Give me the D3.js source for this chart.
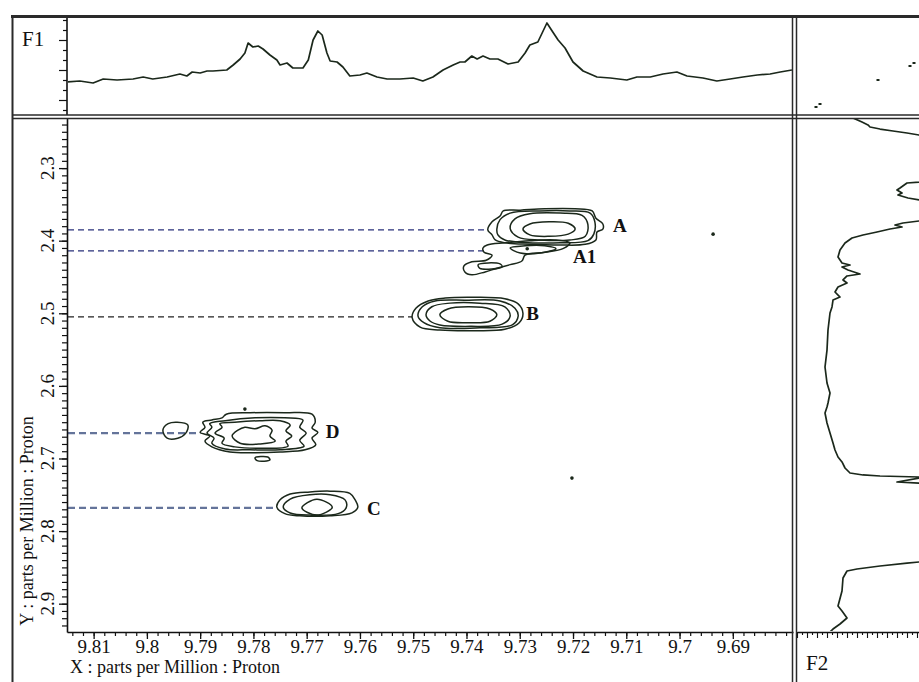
<!DOCTYPE html>
<html><head><meta charset="utf-8">
<script src="https://cdn.jsdelivr.net/npm/d3@7"></script>
<style>
body{margin:0;background:#fff}
svg{display:block}
text{font-family:"Liberation Serif","DejaVu Serif",serif;fill:#111}
</style>
</head><body>
<svg id="c" width="919" height="682"></svg>
<script>
// ---------------- DATA ----------------
const xTickValues = [9.81,9.80,9.79,9.78,9.77,9.76,9.75,9.74,9.73,9.72,9.71,9.70,9.69];
const yTickValues = [2.3,2.4,2.5,2.6,2.7,2.8,2.9];

// F1 projection (top): chemical shift (ppm) and intensity (a.u.)
const f1Shift = [9.8150,9.8126,9.8101,9.8082,9.8056,9.8026,9.8007,9.7989,9.7962,9.7938,9.7925,9.7915,9.7900,9.7887,9.7876,9.7850,9.7838,9.7825,9.7816,9.7810,9.7801,9.7791,9.7782,9.7769,9.7756,9.7750,9.7737,9.7726,9.7707,9.7697,9.7688,9.7679,9.7671,9.7662,9.7656,9.7643,9.7632,9.7619,9.7600,9.7587,9.7568,9.7549,9.7525,9.7500,9.7482,9.7463,9.7444,9.7425,9.7412,9.7403,9.7390,9.7380,9.7369,9.7356,9.7341,9.7322,9.7303,9.7290,9.7281,9.7266,9.7249,9.7238,9.7228,9.7215,9.7200,9.7181,9.7155,9.7130,9.7099,9.7080,9.7055,9.7031,9.7005,9.6986,9.6956,9.6930,9.6905,9.6881,9.6854,9.6830,9.6811,9.6789];
const f1Intensity = [33,34,32,36,35,36,38,36,38,41,39,43,42,44,44,45,50,56,62,72,68,69,66,60,55,50,52,47,47,55,75,84,80,62,54,53,48,39,40,42,38,36,36,37,34,38,45,50,53,53,59,56,59,56,56,51,53,62,70,73,92,83,75,67,53,44,38,37,35,38,38,41,43,39,37,34,36,38,40,41,43,45];

// F2 projection (right): chemical shift (ppm) and intensity (a.u.)
const f2Shift = [2.2310,2.2365,2.2406,2.2434,2.2462,2.2489,2.2517,2.2544,2.2751,2.3150,2.3192,2.3205,2.3274,2.3302,2.3343,2.3371,2.3412,2.3439,2.3577,2.3700,2.3729,2.3756,2.3784,2.3811,2.3839,2.3880,2.3922,2.3963,2.4032,2.4128,2.4225,2.4307,2.4335,2.4362,2.4404,2.4459,2.4486,2.4541,2.4583,2.4638,2.4707,2.4776,2.4817,2.4913,2.4996,2.5230,2.5506,2.5740,2.5960,2.6098,2.6236,2.6291,2.6373,2.6511,2.6649,2.6787,2.6883,2.6979,2.7048,2.7131,2.7200,2.7227,2.7241,2.7255,2.7262,2.7269,2.7324,2.7338,2.7400,2.8400,2.8426,2.8440,2.8481,2.8522,2.8550,2.8646,2.8825,2.9032,2.9101,2.9197,2.9280,2.9349,2.9390];
const f2Intensity = [56,65,71,73,83,96,110,122,150,150,122,110,103,100,105,101,111,122,150,150,122,106,98,105,93,80,66,55,48,43,41,45,53,45,51,63,50,46,50,41,38,43,36,35,33,31,30,28,30,33,31,30,28,30,33,36,38,41,45,48,53,66,83,122,150,122,100,122,150,150,122,110,83,60,50,46,45,41,45,50,43,36,33];

// Corner panel stray points (F2 intensity, F1 intensity)
const cornerX = [19,23,81,113,117];
const cornerY = [8,11,35,49,52];

// Contour rings [x ppm, y ppm]
const contourA = [
 [[9.7360,2.385],[9.7352,2.374],[9.7337,2.366],[9.7331,2.359],[9.7299,2.358],[9.7253,2.356],[9.7196,2.356],[9.7164,2.359],[9.7157,2.369],[9.7144,2.377],[9.7144,2.384],[9.7155,2.388],[9.7157,2.399],[9.7177,2.405],[9.7224,2.406],[9.7281,2.405],[9.7328,2.403],[9.7346,2.399],[9.7352,2.392]],
 [[9.7343,2.384],[9.7337,2.371],[9.7318,2.362],[9.7262,2.359],[9.7206,2.359],[9.7168,2.362],[9.7159,2.374],[9.7161,2.391],[9.7172,2.400],[9.7224,2.403],[9.7299,2.402],[9.7328,2.399],[9.7341,2.392]],
 [[9.7318,2.383],[9.7309,2.370],[9.7281,2.363],[9.7224,2.362],[9.7183,2.365],[9.7172,2.378],[9.7177,2.394],[9.7206,2.399],[9.7262,2.399],[9.7303,2.395]],
 [[9.7294,2.384],[9.7281,2.377],[9.7245,2.374],[9.7209,2.376],[9.7196,2.384],[9.7209,2.391],[9.7245,2.394],[9.7281,2.392]]
];
const contourA1 = [
 [[9.7369,2.410],[9.7361,2.406],[9.7328,2.403],[9.7281,2.400],[9.7234,2.399],[9.7206,2.403],[9.7219,2.411],[9.7253,2.416],[9.7290,2.420],[9.7296,2.428],[9.7318,2.433],[9.7343,2.438],[9.7365,2.443],[9.7390,2.447],[9.7403,2.443],[9.7405,2.435],[9.7390,2.429],[9.7363,2.427],[9.7352,2.420],[9.7367,2.416]],
 [[9.7318,2.410],[9.7290,2.407],[9.7253,2.407],[9.7232,2.411],[9.7262,2.417],[9.7299,2.417]],
 [[9.7378,2.433],[9.7337,2.432],[9.7333,2.436],[9.7375,2.438]]
];
const contourB = [
 [[9.7502,2.506],[9.7495,2.493],[9.7472,2.483],[9.7440,2.479],[9.7384,2.478],[9.7328,2.480],[9.7303,2.487],[9.7294,2.500],[9.7301,2.513],[9.7328,2.522],[9.7384,2.524],[9.7450,2.523],[9.7487,2.519]],
 [[9.7491,2.504],[9.7483,2.491],[9.7459,2.483],[9.7403,2.482],[9.7337,2.483],[9.7309,2.493],[9.7303,2.504],[9.7314,2.516],[9.7375,2.520],[9.7450,2.520],[9.7480,2.513]],
 [[9.7476,2.502],[9.7465,2.491],[9.7431,2.486],[9.7375,2.486],[9.7328,2.491],[9.7318,2.504],[9.7333,2.515],[9.7393,2.518],[9.7450,2.516],[9.7468,2.511]],
 [[9.7450,2.502],[9.7435,2.494],[9.7397,2.491],[9.7356,2.494],[9.7343,2.502],[9.7356,2.511],[9.7397,2.513],[9.7435,2.511]]
];
const contourD = [
 [[9.7900,2.664],[9.7891,2.657],[9.7895,2.650],[9.7878,2.647],[9.7859,2.644],[9.7851,2.639],[9.7806,2.637],[9.7741,2.637],[9.7690,2.639],[9.7684,2.650],[9.7690,2.658],[9.7679,2.664],[9.7690,2.672],[9.7683,2.681],[9.7703,2.688],[9.7750,2.691],[9.7797,2.692],[9.7844,2.691],[9.7878,2.684],[9.7891,2.676],[9.7882,2.669]],
 [[9.7887,2.665],[9.7878,2.657],[9.7882,2.652],[9.7853,2.648],[9.7797,2.644],[9.7741,2.644],[9.7707,2.647],[9.7713,2.657],[9.7701,2.665],[9.7713,2.675],[9.7705,2.683],[9.7750,2.688],[9.7806,2.688],[9.7853,2.687],[9.7878,2.679],[9.7874,2.672]],
 [[9.7872,2.665],[9.7859,2.657],[9.7863,2.652],[9.7835,2.650],[9.7788,2.648],[9.7750,2.648],[9.7731,2.654],[9.7739,2.662],[9.7728,2.669],[9.7739,2.676],[9.7735,2.683],[9.7788,2.686],[9.7835,2.684],[9.7859,2.679],[9.7855,2.672]],
 [[9.7840,2.669],[9.7829,2.661],[9.7816,2.657],[9.7797,2.659],[9.7778,2.655],[9.7765,2.661],[9.7769,2.669],[9.7759,2.676],[9.7788,2.680],[9.7825,2.679]],
 [[9.7970,2.661],[9.7960,2.652],[9.7943,2.650],[9.7923,2.654],[9.7927,2.665],[9.7942,2.672],[9.7962,2.672]],
 [[9.7797,2.699],[9.7773,2.698],[9.7769,2.702],[9.7793,2.703]]
];
const contourC = [
 [[9.7756,2.767],[9.7750,2.757],[9.7731,2.749],[9.7694,2.746],[9.7656,2.745],[9.7619,2.748],[9.7609,2.757],[9.7604,2.767],[9.7615,2.775],[9.7656,2.779],[9.7713,2.779],[9.7741,2.776]],
 [[9.7744,2.767],[9.7731,2.756],[9.7694,2.750],[9.7656,2.750],[9.7628,2.757],[9.7626,2.768],[9.7641,2.776],[9.7694,2.778],[9.7731,2.775]],
 [[9.7709,2.768],[9.7681,2.756],[9.7652,2.767],[9.7681,2.778]]
];
// isolated noise points
const dotShiftX = [9.7286,9.6937,9.7202,9.7816];
const dotShiftY = [2.411,2.391,2.727,2.632];

// peak annotations
const peakNames  = ["A","A1","B","D","C"];
const guideY     = [2.385,2.414,2.505,2.665,2.768];
const guideEndX  = [9.7360,9.7367,9.7502,9.7900,9.7756];
const labelX     = [9.7125,9.7200,9.7288,9.7664,9.7587];
const labelY     = [2.388,2.431,2.509,2.672,2.778];
const guideStyle = ["navy","navy","black","slate","slate"];

// ---------------- CHART ----------------
const svg = d3.select("#c");
const x = d3.scaleLinear().domain([9.815, 9.6787]).range([67, 793]);
const y = d3.scaleLinear().domain([2.231, 2.939]).range([118, 632]);
const f1y = d3.scaleLinear().domain([0, 100]).range([115, 15]);
const f2x = d3.scaleLinear().domain([0, 122]).range([797, 919]);

const defs = svg.append("defs");
function clip(id, x0, y0, w, h){
  defs.append("clipPath").attr("id", id).append("rect").attr("x", x0).attr("y", y0).attr("width", w).attr("height", h);
}
clip("cMain", 68, 119, 724, 512);
clip("cF1", 68, 18, 724, 96);
clip("cF2", 797, 119, 122, 512);
clip("cCorner", 797, 18, 122, 96);

const ink = "#1b281b";

// F1 trace
svg.append("g").attr("clip-path", "url(#cF1)")
  .append("path")
  .datum(d3.zip(f1Shift, f1Intensity))
  .attr("fill", "none").attr("stroke", ink).attr("stroke-width", 1.7).attr("stroke-linejoin", "round")
  .attr("d", d3.line().x(d => x(d[0])).y(d => f1y(d[1])));

// F2 trace
svg.append("g").attr("clip-path", "url(#cF2)")
  .append("path")
  .datum(d3.zip(f2Shift, f2Intensity))
  .attr("fill", "none").attr("stroke", ink).attr("stroke-width", 1.7).attr("stroke-linejoin", "round")
  .attr("d", d3.line().x(d => f2x(d[1])).y(d => y(d[0])));

// corner points
svg.append("g").attr("clip-path", "url(#cCorner)")
  .selectAll("rect").data(d3.zip(cornerX, cornerY)).join("rect")
  .attr("x", d => f2x(d[0]) - 1.5).attr("y", d => f1y(d[1]) - 1).attr("width", 3).attr("height", 2).attr("fill", ink);

// guides
const guideColor = {navy: "#28307a", black: "#222", slate: "#64749a"};
const guideWidth = {navy: 1.2, black: 1.2, slate: 2.2};
const guideDash = {navy: "6,4", black: "6,4", slate: "7,4"};
const main = svg.append("g").attr("clip-path", "url(#cMain)");
main.selectAll("line.guide").data(d3.range(peakNames.length)).join("line")
  .attr("class", "guide")
  .attr("x1", 68).attr("x2", i => x(guideEndX[i]))
  .attr("y1", i => y(guideY[i])).attr("y2", i => y(guideY[i]))
  .attr("stroke", i => guideColor[guideStyle[i]])
  .attr("stroke-width", i => guideWidth[guideStyle[i]])
  .attr("stroke-dasharray", i => guideDash[guideStyle[i]]);

// contours
const ringLine = d3.line().x(d => x(d[0])).y(d => y(d[1])).curve(d3.curveCatmullRomClosed.alpha(0.5));
const allRings = [].concat(contourA, contourA1, contourB, contourD, contourC);
main.selectAll("path.ring").data(allRings).join("path")
  .attr("class", "ring")
  .attr("d", ringLine)
  .attr("fill", "none").attr("stroke", ink).attr("stroke-width", 1.5);

main.selectAll("circle.dot").data(d3.zip(dotShiftX, dotShiftY)).join("circle")
  .attr("class", "dot")
  .attr("cx", d => x(d[0])).attr("cy", d => y(d[1])).attr("r", 1.8).attr("fill", ink);

// peak labels
svg.selectAll("text.peak").data(d3.range(peakNames.length)).join("text")
  .attr("class", "peak")
  .attr("x", i => x(labelX[i])).attr("y", i => y(labelY[i]))
  .attr("font-size", 19).attr("font-weight", "bold")
  .text(i => peakNames[i]);

// ---------------- AXES ----------------
const fmt = v => String(+v.toFixed(2));
// x axis main
const xMinor = d3.range(9.680, 9.8151, 0.002);
svg.append("g").attr("transform", "translate(0,632)")
  .call(d3.axisBottom(x).tickValues(xMinor).tickSize(4).tickSizeOuter(0).tickFormat(""))
  .call(g => g.select(".domain").remove())
  .call(g => g.selectAll("line").attr("stroke", "#111").attr("stroke-width", 1.2));
const xAx = svg.append("g").attr("transform", "translate(0,632)")
  .call(d3.axisBottom(x).tickValues(xTickValues).tickSize(7).tickSizeOuter(0).tickFormat(fmt));
xAx.select(".domain").attr("stroke", "#111").attr("stroke-width", 1.6);
xAx.selectAll("line").attr("stroke", "#111").attr("stroke-width", 1.3);
xAx.selectAll("text").attr("font-size", 19).attr("font-family", "Liberation Serif, DejaVu Serif, serif").attr("fill", "#111").attr("y", 8);

// y axis main
const yMinor = d3.range(2.24, 2.935, 0.01);
svg.append("g").attr("transform", "translate(67,0)")
  .call(d3.axisLeft(y).tickValues(yMinor).tickSize(5).tickSizeOuter(0).tickFormat(""))
  .call(g => g.select(".domain").remove())
  .call(g => g.selectAll("line").attr("stroke", "#111").attr("stroke-width", 1.2));
const yAx = svg.append("g").attr("transform", "translate(67,0)")
  .call(d3.axisLeft(y).tickValues(yTickValues).tickSize(8).tickSizeOuter(0).tickFormat(""));
yAx.select(".domain").attr("stroke", "#111").attr("stroke-width", 1.6);
yAx.selectAll("line").attr("stroke", "#111").attr("stroke-width", 1.3);
svg.selectAll("text.ytick").data(yTickValues).join("text")
  .attr("class", "ytick")
  .attr("transform", d => `translate(54,${y(d)}) rotate(-90)`)
  .attr("text-anchor", "middle").attr("font-size", 19)
  .text(d => fmt(d));

// F1 intensity axis
const f1Ticks = d3.range(5, 100, 10);
const f1Ax = svg.append("g").attr("transform", "translate(67,0)")
  .call(d3.axisLeft(f1y).tickValues(f1Ticks).tickSize(4).tickSizeOuter(0).tickFormat(""));
f1Ax.select(".domain").attr("d", `M0,${f1y(100)}V${f1y(0)}`).attr("stroke", "#111").attr("stroke-width", 1.6);
f1Ax.selectAll(".tick line").attr("stroke", "#111").attr("stroke-width", 1.2)
  .attr("x2", d => (d % 30 === 15) ? -8 : -4);

// F2 intensity axis
const f2Ticks = d3.range(0, 123, 5);
const f2Ax = svg.append("g").attr("transform", "translate(0,632)")
  .call(d3.axisBottom(f2x).tickValues(f2Ticks).tickSize(3).tickSizeOuter(0).tickFormat(""));
f2Ax.select(".domain").attr("stroke", "#111").attr("stroke-width", 1.6);
f2Ax.selectAll(".tick line").attr("stroke", "#111").attr("stroke-width", 1.1)
  .attr("y2", d => (d % 10 === 0) ? 6 : 3);

// axis titles
svg.append("text").attr("x", 70).attr("y", 673).attr("font-size", 18).text("X : parts per Million : Proton");
svg.append("text").attr("transform", "translate(33,521) rotate(-90)").attr("text-anchor", "middle")
  .attr("font-size", 18).text("Y : parts per Million : Proton");
svg.append("text").attr("x", 22).attr("y", 46).attr("font-size", 21).text("F1");
svg.append("text").attr("x", 806).attr("y", 670).attr("font-size", 21).text("F2");

// ---------------- FRAME ----------------
const frame = svg.append("g").attr("stroke", "#2a2a2a").attr("fill", "none");
frame.append("line").attr("x1", 11).attr("x2", 919).attr("y1", 16.5).attr("y2", 16.5).attr("stroke-width", 3);
frame.append("line").attr("x1", 12.5).attr("x2", 12.5).attr("y1", 15).attr("y2", 682).attr("stroke-width", 2);
[115, 118.5].forEach(v => frame.append("line").attr("x1", 12).attr("x2", 919).attr("y1", v).attr("y2", v).attr("stroke-width", 1.5));
[792.5, 796.5].forEach(v => frame.append("line").attr("x1", v).attr("x2", v).attr("y1", 15).attr("y2", 682).attr("stroke-width", 1.5));
</script>
</body></html>
